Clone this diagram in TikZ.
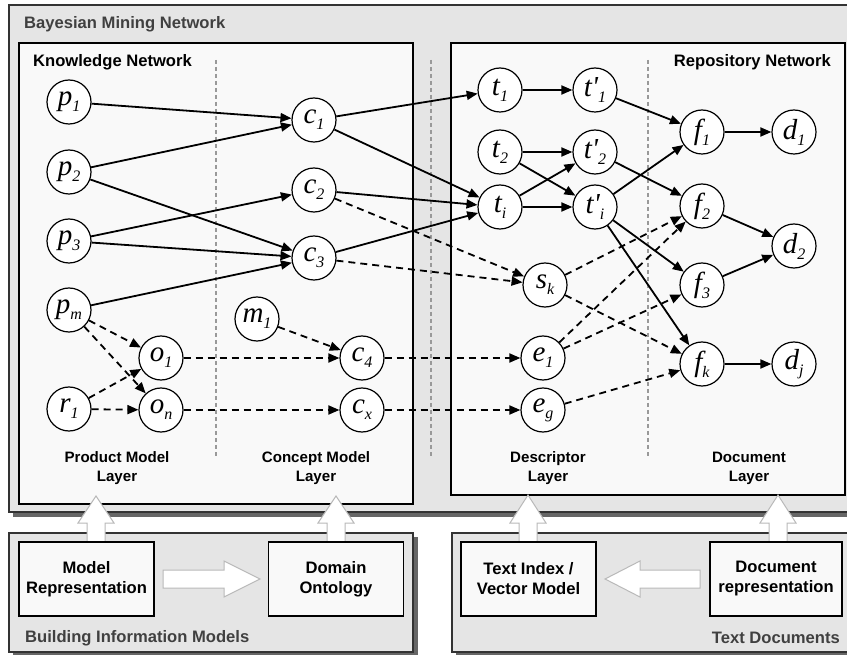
\documentclass[tikz,border=0pt]{standalone}
\usepackage{fontspec}
\setmainfont{Liberation Sans}
\newfontfamily\varfont{Liberation Serif}
\usetikzlibrary{arrows.meta, positioning}

\newcommand{\vn}[2]{#1\raisebox{-6pt}{\fontsize{16}{16}\selectfont #2}}

\begin{document}
\begin{tikzpicture}[x=1pt, y=-1pt,
    var/.style={circle, draw, line width=1.2pt, fill=white, minimum size=44pt, inner sep=0pt, font=\fontsize{29}{29}\selectfont\varfont\itshape},
    edge/.style={-{Triangle[length=11pt, width=9pt]}, line width=1.8pt},
    dedge/.style={edge, dash pattern=on 7pt off 5pt},
    outerbox/.style={draw=black!80, line width=1.5pt, fill=gray!20},
    shadowbox/.style={fill=black!60, draw=none},
    netbox/.style={draw=black, line width=1.5pt, fill=gray!5},
    srcbox/.style={draw=black, line width=1.3pt, fill=gray!5, minimum width=135pt, minimum height=74pt, inner sep=0pt, align=center, font=\fontsize{16.6}{20}\selectfont\bfseries},
    hollow/.style={draw=gray!55, line width=1pt, fill=white},
    divider/.style={draw=gray!80, line width=1.5pt, dash pattern=on 4pt off 3pt},
    boxtitle/.style={font=\fontsize{16.6}{20}\selectfont\bfseries, inner sep=0pt},
    layer/.style={font=\fontsize{15.1}{19}\selectfont\bfseries, align=center, inner sep=0pt}]
  \useasboundingbox (0,0) rectangle (847,655);
  \clip (0,0) rectangle (847,655);

  \fill[shadowbox] (13,9) rectangle (860,517);
  \draw[outerbox] (9,5) rectangle (856,512);
  \fill[shadowbox] (13,537) rectangle (418,657);
  \draw[outerbox] (9,533) rectangle (413,652);
  \fill[shadowbox] (456,537) rectangle (870,657);
  \draw[outerbox] (452,533) rectangle (866,652);

  \draw[netbox] (19,43) rectangle (413,504);
  \draw[netbox] (451,43) rectangle (845,495);

  \draw[divider] (216,60) -- (216,458);
  \draw[divider] (431,60) -- (431,458);
  \draw[divider] (648,60) -- (648,458);

  \filldraw[hollow] (87,542) -- (87,523) -- (78,523) -- (96,496) -- (114,523) -- (105,523) -- (105,542);
  \filldraw[hollow] (327,542) -- (327,523) -- (318,523) -- (336,496) -- (354,523) -- (345,523) -- (345,542);
  \filldraw[hollow] (519,542) -- (519,523) -- (510,523) -- (528,495) -- (546,523) -- (537,523) -- (537,542);
  \filldraw[hollow] (769,542) -- (769,523) -- (760,523) -- (778,495) -- (796,523) -- (787,523) -- (787,542);
  \filldraw[hollow] (163,570) -- (224,570) -- (224,561) -- (260,579) -- (224,597) -- (224,588) -- (163,588) -- cycle;
  \filldraw[hollow] (700,570) -- (640,570) -- (640,561) -- (605,579) -- (640,597) -- (640,588) -- (700,588) -- cycle;

  \node[srcbox] (modelrep) at (86.5,579) {Model\\Representation};
  \node[srcbox] (ontology) at (336,579) {Domain\\Ontology};
  \node[srcbox] (textindex) at (528.5,579) {Text Index /\\Vector Model};
  \node[srcbox, minimum width=132pt] (docrep) at (776,579) {Document\\representation};

  \node[boxtitle, text=black!75, anchor=base west] (bmn) at (24,29) {Bayesian Mining Network};
  \node[boxtitle, anchor=base west] (kn) at (33,67) {Knowledge Network};
  \node[boxtitle, anchor=base east] (rn) at (831,67) {Repository Network};
  \node[boxtitle, text=black!75, anchor=base west] (bim) at (25,642) {Building Information Models};
  \node[boxtitle, text=black!75, anchor=base east] (td) at (840,643) {Text Documents};

  \node[layer] (pml) at (117,468) {Product Model\\Layer};
  \node[layer] (cml) at (316,468) {Concept Model\\Layer};
  \node[layer] (dsl) at (548,468) {Descriptor\\Layer};
  \node[layer] (dcl) at (749,468) {Document\\Layer};

  \node[var] (p1) at (69,102) {\vn{p}{1}};
  \node[var] (p2) at (69,172) {\vn{p}{2}};
  \node[var] (p3) at (69,241) {\vn{p}{3}};
  \node[var] (pm) at (69,310) {\vn{p}{m}};
  \node[var] (r1) at (69,409) {\vn{r}{1}};
  \node[var] (o1) at (161,358) {\vn{o}{1}};
  \node[var] (on) at (161,410) {\vn{o}{n}};
  \node[var] (c1) at (314,120) {\vn{c}{1}};
  \node[var] (c2) at (314,190) {\vn{c}{2}};
  \node[var] (c3) at (314,258) {\vn{c}{3}};
  \node[var] (m1) at (257,319) {\vn{m}{1}};
  \node[var] (c4) at (362,358) {\vn{c}{4}};
  \node[var] (cx) at (362,410) {\vn{c}{x}};
  \node[var] (t1) at (500,90) {\vn{t}{1}};
  \node[var] (t2) at (500,152) {\vn{t}{2}};
  \node[var] (ti) at (500,207) {\vn{t}{i}};
  \node[var] (tp1) at (595,90) {\vn{t'}{1}};
  \node[var] (tp2) at (595,152) {\vn{t'}{2}};
  \node[var] (tpi) at (595,207) {\vn{t'}{i}};
  \node[var] (sk) at (545,285) {\vn{s}{k}};
  \node[var] (e1) at (543,358) {\vn{e}{1}};
  \node[var] (eg) at (543,410) {\vn{e}{g}};
  \node[var] (f1) at (702,132) {\vn{f}{1}};
  \node[var] (f2) at (702,206) {\vn{f}{2}};
  \node[var] (f3) at (702,285) {\vn{f}{3}};
  \node[var] (fk) at (702,364) {\vn{f}{k}};
  \node[var] (d1) at (794,132) {\vn{d}{1}};
  \node[var] (d2) at (794,246) {\vn{d}{2}};
  \node[var] (dj) at (794,364) {\vn{d}{j}};

  \draw[edge] (p1) -- (c1);
  \draw[edge] (p2) -- (c1);
  \draw[edge] (p2) -- (c3);
  \draw[edge] (p3) -- (c2);
  \draw[edge] (p3) -- (c3);
  \draw[edge] (pm) -- (c3);
  \draw[dedge] (pm) -- (o1);
  \draw[dedge] (pm) -- (on);
  \draw[dedge] (r1) -- (o1);
  \draw[dedge] (r1) -- (on);
  \draw[dedge] (o1) -- (c4);
  \draw[dedge] (on) -- (cx);
  \draw[dedge] (m1) -- (c4);
  \draw[dedge] (c4) -- (e1);
  \draw[dedge] (cx) -- (eg);
  \draw[edge] (c1) -- (t1);
  \draw[edge] (c1) -- (ti);
  \draw[edge] (c2) -- (ti);
  \draw[edge] (c3) -- (ti);
  \draw[dedge] (c2) -- (sk);
  \draw[dedge] (c3) -- (sk);
  \draw[edge] (t1) -- (tp1);
  \draw[edge] (t2) -- (tp2);
  \draw[edge] (t2) -- (tpi);
  \draw[edge] (ti) -- (tp2);
  \draw[edge] (ti) -- (tpi);
  \draw[edge] (tp1) -- (f1);
  \draw[edge] (tp2) -- (f2);
  \draw[edge] (tpi) -- (f1);
  \draw[edge] (tpi) -- (f3);
  \draw[edge] (tpi) -- (fk);
  \draw[dedge] (sk) -- (f2);
  \draw[dedge] (sk) -- (fk);
  \draw[dedge] (e1) -- (f2);
  \draw[dedge] (e1) -- (f3);
  \draw[dedge] (eg) -- (fk);
  \draw[edge] (f1) -- (d1);
  \draw[edge] (f2) -- (d2);
  \draw[edge] (f3) -- (d2);
  \draw[edge] (fk) -- (dj);
\end{tikzpicture}
\end{document}
